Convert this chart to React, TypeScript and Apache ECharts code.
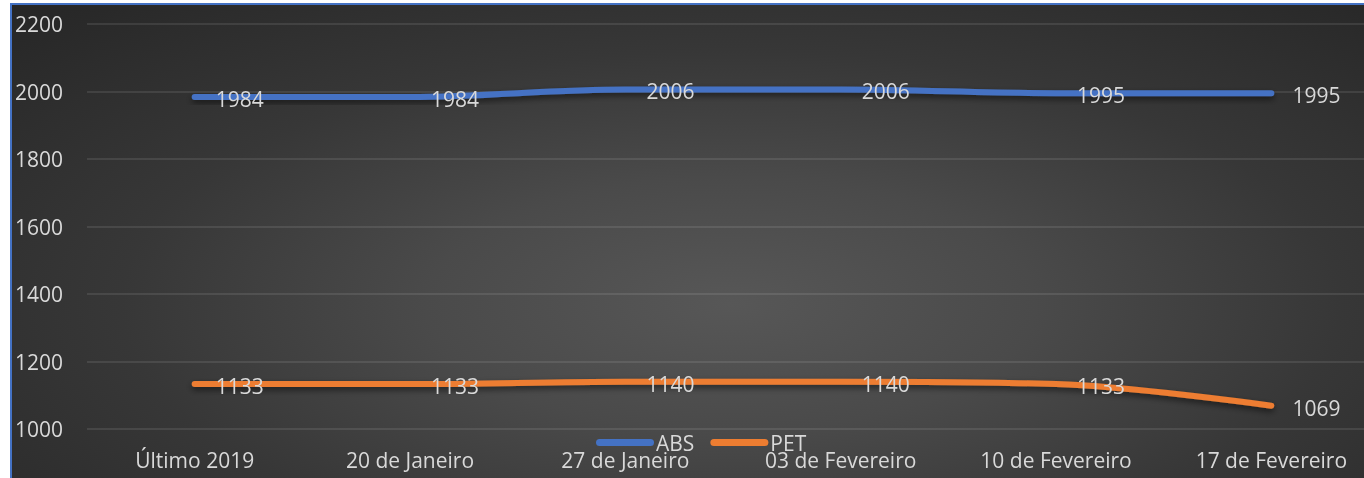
import React, { useEffect, useRef } from "react";
import * as echarts from "echarts";

const categories = ["Último 2019", "20 de Janeiro", "27 de Janeiro", "03 de Fevereiro", "10 de Fevereiro", "17 de Fevereiro"];
const absValues = [1984, 1984, 2006, 2006, 1995, 1995];
const petValues = [1133, 1133, 1140, 1140, 1133, 1069];
const yTicks = { min: 1000, max: 2200, interval: 200 };

const FONT = "'Open Sans', 'Noto Sans', sans-serif";
const TEXT = "#d9d9d9";
const FS = 21;

export default function App() {
  const ref = useRef<HTMLDivElement>(null);
  useEffect(() => {
    document.body.style.overflow = "hidden";
    if (!ref.current) return;
    const chart = echarts.init(ref.current, undefined, { renderer: "svg" });
    const labelCfg = {
      show: true,
      position: "right" as const,
      distance: 21,
      offset: [0, 2],
      color: TEXT,
      fontSize: FS,
      fontFamily: FONT,
    };
    const mkSeries = (name: string, data: number[], color: string) => ({
      name,
      type: "line",
      data,
      smooth: 0.35,
      symbol: "circle",
      symbolSize: 0.1,
      showSymbol: true,
      color,
      itemStyle: { color },
      lineStyle: {
        width: 6,
        color,
        cap: "round",
        shadowColor: "rgba(0,0,0,0.55)",
        shadowBlur: 6,
        shadowOffsetY: 3,
      },
      label: labelCfg,
    });
    chart.setOption({
      animation: false,
      backgroundColor: "transparent",
      textStyle: { fontFamily: FONT },
      grid: { left: 75, right: 13, top: 19, bottom: 56, containLabel: false },
      legend: {
        data: ["ABS", "PET"],
        top: 422,
        left: 579,
        itemWidth: 58,
        itemHeight: 7,
        itemGap: 16,
        icon: "path://M3.5,0 H54.5 A3.5,3.5 0 0 1 54.5,7 H3.5 A3.5,3.5 0 0 1 3.5,0 Z",
        textStyle: { color: TEXT, fontSize: FS, fontFamily: FONT, padding: [0, 0, 0, -3] },
      },
      xAxis: {
        type: "category",
        data: categories,
        boundaryGap: true,
        axisLine: { show: false },
        axisTick: { show: false },
        axisLabel: { color: TEXT, fontSize: FS, fontFamily: FONT, margin: 20, interval: 0 },
      },
      yAxis: {
        type: "value",
        min: yTicks.min,
        max: yTicks.max,
        interval: yTicks.interval,
        axisLine: { show: false },
        axisTick: { show: false },
        axisLabel: {
          color: TEXT,
          fontSize: FS,
          fontFamily: FONT,
          margin: 24,
          formatter: (v: number) => String(v),
        },
        splitLine: { lineStyle: { color: "rgba(255,255,255,0.13)", width: 1.5 } },
      },
      series: [mkSeries("ABS", absValues, "#4472c4"), mkSeries("PET", petValues, "#ed7d31")],
    });
    return () => chart.dispose();
  }, []);
  return (
    <div
      style={{
        position: "fixed",
        left: 10,
        top: 3,
        width: 1382,
        height: 482,
        borderLeft: "2px solid #4472c4",
        borderTop: "2px solid #4472c4",
        background:
          "radial-gradient(ellipse at 52% 62%, #575757 0%, #4a4a4a 30%, #373737 60%, #262626 100%)",
        overflow: "hidden",
      }}
    >
      <div ref={ref} style={{ width: 1380, height: 480 }} />
    </div>
  );
}
